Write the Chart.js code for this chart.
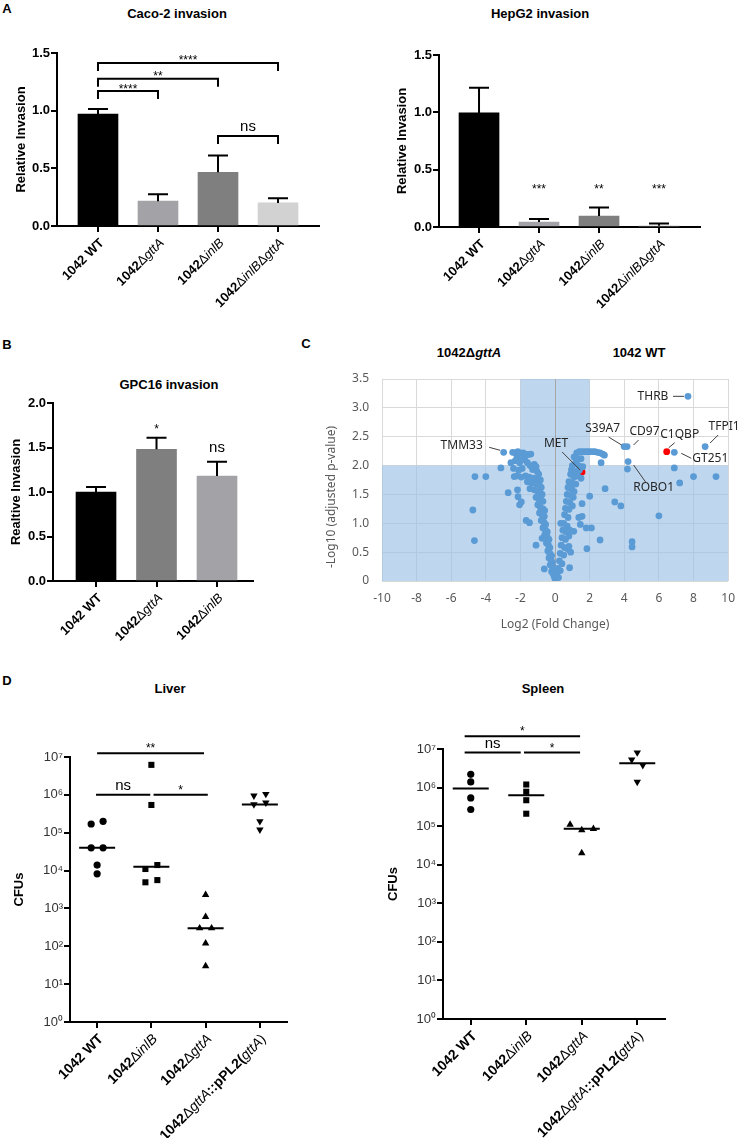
<!DOCTYPE html>
<html>
<head>
<meta charset="utf-8">
<script src="https://cdn.jsdelivr.net/npm/chart.js@4.4.1/dist/chart.umd.min.js"></script>
<style>
body { margin: 0; background: #fff; width: 745px; height: 1138px; position: relative; overflow: hidden; font-family: "Liberation Sans", Arial, sans-serif; }
canvas { position: absolute; left: 0; top: 0; }
.t { position: absolute; transform: translate(-50%, -50%); font-weight: bold; font-size: 13px; white-space: nowrap; color: #000; }
</style>
</head>
<body>
<div class="t" style="left:7px;top:8px">A</div>
<div class="t" style="left:7px;top:344px">B</div>
<div class="t" style="left:306px;top:343px">C</div>
<div class="t" style="left:7px;top:680px">D</div>
<div class="t" style="left:177px;top:13px">Caco-2 invasion</div>
<div class="t" style="left:540px;top:13px">HepG2 invasion</div>
<div class="t" style="left:169px;top:384px">GPC16 invasion</div>
<div class="t" style="left:469px;top:352px">1042Δ<i>gttA</i></div>
<div class="t" style="left:639px;top:352px">1042 WT</div>
<div class="t" style="left:170px;top:688px">Liver</div>
<div class="t" style="left:543px;top:688px">Spleen</div>
<canvas id="caco2" width="745" height="1138"></canvas>
<canvas id="hepg2" width="745" height="1138"></canvas>
<canvas id="gpc16" width="745" height="1138"></canvas>
<canvas id="volcano" width="745" height="1138"></canvas>
<canvas id="liver" width="745" height="1138"></canvas>
<canvas id="spleen" width="745" height="1138"></canvas>
<script>
// ---- data ----
var strains = ['1042 WT', '1042ΔgttA', '1042ΔinlB', '1042ΔinlBΔgttA']
var caco2Mean = [0.97, 0.215, 0.466, 0.20]
var caco2Err = [0.045, 0.06, 0.145, 0.04]
var caco2Sig = [{from: 0, to: 3, y: 1.414, text: '****'}, {from: 0, to: 2, y: 1.276, text: '**'},
                {from: 0, to: 1, y: 1.17, text: '****'}, {from: 2, to: 3, y: 0.78, text: 'ns'}]
var hepg2Mean = [0.995, 0.043, 0.095, 0.01]
var hepg2Err = [0.22, 0.026, 0.075, 0.02]
var hepg2Stars = [{at: 1, y: 0.36, text: '***'}, {at: 2, y: 0.36, text: '**'}, {at: 3, y: 0.36, text: '***'}]
var gpcStrains = ['1042 WT', '1042ΔgttA', '1042ΔinlB']
var gpc16Mean = [1.0, 1.48, 1.18]
var gpc16Err = [0.055, 0.13, 0.16]
var gpc16Stars = [{at: 1, y: 1.74, text: '*'}, {at: 2, y: 1.5, text: 'ns'}]

// volcano: labelled proteins, then the rest
var geneNames = ['THRB', 'TFPI1', 'C1QBP', 'GT251', 'CD97', 'S39A7', 'ROBO1', 'MET', 'TMM33']
var geneFC = [7.68, 8.67, 6.45, 6.89, 4.16, 3.99, 4.22, 1.56, -2.97]
var geneP = [3.2, 2.33, 2.24, 2.23, 2.33, 2.33, 2.07, 1.89, 2.23]
var redGenes = ['MET', 'C1QBP']
var otherProteins = [
  [-2.45,2.23],[-2.3,2.22],[-2.15,2.24],[-2.0,2.21],[-1.85,2.22],[-1.7,2.2],[-1.55,2.19],[-1.4,2.2],[-2.2,2.15],[-1.9,2.12],[-1.75,2.1],
  [-2.55,2.05],[-2.3,2.08],[-2.05,2.05],[-1.6,2.05],[-1.45,2.0],[-1.2,2.02],[-1.1,1.98],
  [-2.4,1.95],[-2.1,1.92],[-1.9,1.95],[-1.3,1.93],[-1.05,1.9],[-0.95,1.85],
  [-2.2,1.82],[-1.95,1.8],[-1.7,1.82],[-1.5,1.8],[-1.25,1.78],[-1.0,1.77],[-0.85,1.75],
  [-1.6,1.72],[-1.35,1.7],[-1.1,1.68],[-0.9,1.66],[-0.8,1.62],
  [-1.45,1.6],[-1.2,1.58],[-1.0,1.55],[-0.85,1.52],[-0.75,1.5],
  [-1.1,1.45],[-0.95,1.42],[-0.8,1.4],[-0.7,1.38],
  [-1.0,1.32],[-0.85,1.28],[-0.7,1.25],[-0.6,1.22],
  [-0.9,1.18],[-0.75,1.15],[-0.62,1.12],
  [-0.8,1.05],[-0.65,1.02],[-0.55,0.98],
  [-0.7,0.92],[-0.55,0.88],[-0.45,0.85],
  [-0.6,0.8],[-0.45,0.76],[-0.35,0.72],
  [-0.5,0.66],[-0.38,0.62],[-0.3,0.58],
  [-0.42,0.52],[-0.3,0.48],[-0.2,0.44],
  [-0.35,0.4],[-0.22,0.36],[-0.15,0.32],
  [-0.28,0.28],[-0.15,0.24],[-0.08,0.2],
  [-0.2,0.16],[-0.1,0.12],[-0.05,0.08],[0.0,0.04],[0.02,0.02],
  [-3.13,1.96],[-4.0,1.81],[-4.63,1.81],[-4.75,1.23],[-4.66,0.7],[-2.71,1.53],[-2.14,1.46],[-1.95,1.37],
  [-2.05,1.32],[-2.17,1.58],[-1.67,1.05],[-1.48,1.01],[-1.1,0.62],[-0.75,0.74],[-0.62,0.21],[-2.36,1.81],
  [1.25,2.22],[1.4,2.24],[1.55,2.24],[1.7,2.24],[1.85,2.24],[2.0,2.24],[2.15,2.24],[2.3,2.24],[2.45,2.23],[2.6,2.22],[2.75,2.2],[2.85,2.18],
  [1.1,2.15],[1.3,2.12],[1.5,2.12],[1.2,2.05],[1.0,2.0],[1.35,2.0],[1.6,1.98],
  [0.95,1.93],[1.15,1.9],[1.4,1.92],[0.9,1.85],[1.1,1.8],[1.3,1.82],[1.5,1.78],
  [0.8,1.72],[1.0,1.7],[1.2,1.68],[0.75,1.62],[0.95,1.6],[1.1,1.55],[0.7,1.5],[0.9,1.48],[1.05,1.45],[0.65,1.38],[0.85,1.36],[0.6,1.26],[0.8,1.24],[1.0,1.3],
  [0.55,1.15],[0.75,1.1],[0.5,1.0],[0.7,0.95],[0.45,0.88],[0.65,0.85],[0.85,0.88],[0.4,0.75],[0.6,0.72],[0.8,0.78],[0.35,0.62],[0.55,0.58],[0.75,0.55],
  [0.3,0.48],[0.5,0.45],[0.25,0.35],[0.4,0.3],[0.15,0.22],[0.3,0.18],[0.1,0.1],[0.2,0.06],
  [2.66,2.05],[2.89,1.6],[2.0,1.47],[1.56,1.34],[1.56,1.12],[1.37,1.1],[1.46,0.98],[1.08,0.86],[0.84,0.23],[1.8,0.92],[2.1,0.92],[1.84,0.56],
  [2.6,0.71],[3.45,1.37],[3.8,1.3],[4.45,0.68],[4.45,0.59],[4.18,1.94],[6.89,1.96],[8.0,1.81],[9.3,1.81],[7.2,1.7],[6.0,1.13],[0.33,1.0],[0.8,0.6],[0.9,0.5]
]

// mouse organ CFUs, one array per strain, plus horizontal spread of the dots
var mouseStrains = ['1042 WT', '1042ΔinlB', '1042ΔgttA', '1042ΔgttA::pPL2(gttA)']
var liverCFU = [[1.7e5, 2e5, 4e4, 4e4, 1.4e4, 8.2e3], [6.2e6, 5.4e5, 1.1e4, 1.4e4, 4.9e3, 5.6e3],
                [2.3e3, 600, 300, 300, 120, 30], [9.5e5, 1.05e6, 5.6e5, 6.2e5, 2e5, 1.2e5]]
var liverSpread = [[-0.11, 0.11, -0.11, 0.11, 0, 0], [0, 0, -0.11, 0.11, -0.11, 0.11],
                   [0, 0, -0.11, 0.11, 0, 0], [-0.11, 0.11, -0.11, 0.11, 0, 0]]
var liverMedian = [4e4, 1.26e4, 300, 5.6e5]
var liverSig = [{from: 0, to: 1.97, y: 1.26e7, text: '**'}, {from: -0.02, to: 0.98, y: 1e6, text: 'ns'}, {from: 1.04, to: 2.04, y: 1e6, text: '*'}]
var spleenCFU = [[2.2e6, 1.4e6, 5.4e5, 2.7e5], [1.2e6, 7.8e5, 4.7e5, 2.1e5], [1.1e5, 7.9e4, 8.5e4, 2e4], [8.1e6, 5.3e6, 3.8e6, 1.4e6]]
var spleenSpread = [[0, 0, 0, 0], [0, 0, 0, 0], [-0.21, 0, 0.21, 0], [0, -0.1, 0.1, 0]]
var spleenMedian = [9.5e5, 6.3e5, 8.5e4, 4.3e6]
var spleenSig = [{from: -0.11, to: 1.97, y: 2.15e7, text: '*'}, {from: -0.11, to: 0.9, y: 8.1e6, text: 'ns'}, {from: 0.96, to: 1.97, y: 8.1e6, text: '*'}]

var F1 = '"Liberation Sans", Arial, sans-serif'
var F2 = '"Noto Sans", sans-serif'
Chart.defaults.font.family = F1
Chart.defaults.color = '#000'
Chart.defaults.animation = false
Chart.defaults.events = []
Chart.defaults.plugins.legend.display = false
Chart.defaults.plugins.tooltip.enabled = false

// every chart sits on a full page canvas, padding puts its plot area in place
function frame(a, yTitleX, xH) {
    var yW = a.l - (yTitleX - 4 - 13 * 0.6)
    return {yW: yW, xH: xH, padding: {left: a.l - yW, top: a.t, right: 745 - a.r, bottom: 1138 - a.b - xH}}
}

// strain names: 1042 bold, Δ plain, gene names italic
function drawStrain(ctx, x, y, text, size) {
    var runs = text.split(/(Δ|gttA|inlB|\))/).filter(Boolean).map(function (p) {
        var st = (p == 'gttA' || p == 'inlB') ? 'italic ' : (p == 'Δ' || p == ')') ? '' : 'bold '
        return [p, st + size + 'px ' + F1]
    })
    var w = 0
    runs.forEach(function (r) { ctx.font = r[1]; w += ctx.measureText(r[0]).width })
    ctx.save()
    ctx.translate(x, y)
    ctx.rotate(-Math.PI / 4)
    ctx.textBaseline = 'middle'
    ctx.textAlign = 'left'
    ctx.fillStyle = '#000'
    var cx = -w
    runs.forEach(function (r) { ctx.font = r[1]; ctx.fillText(r[0], cx, 0); cx += ctx.measureText(r[0]).width })
    ctx.restore()
}

function sigText(ctx, text, x, cy) {
    ctx.fillStyle = '#000'
    ctx.textAlign = 'center'
    if (text[0] == '*') {
        ctx.font = '12px ' + F1
        ctx.textBaseline = 'alphabetic'
        ctx.fillText(text, x, cy + 7)
    } else {
        ctx.font = '15px ' + F1
        ctx.textBaseline = 'middle'
        ctx.fillText(text, x, cy)
    }
}

var xLabels = {
    id: 'xLabels',
    afterDraw: function (chart, args, o) {
        var xs = chart.scales.x, ys = chart.scales.y
        o.labels.forEach(function (t, i) {
            drawStrain(chart.ctx, xs.getPixelForValue(i) + o.dx, ys.bottom + o.dy, t, o.size)
        })
    }
}

var errBars = {
    id: 'errBars',
    afterDatasetsDraw: function (chart, args, o) {
        var xs = chart.scales.x, ys = chart.scales.y, ctx = chart.ctx
        ctx.save()
        ctx.strokeStyle = '#000'
        ctx.lineWidth = 2
        o.mean.forEach(function (m, i) {
            var px = xs.getPixelForValue(i), top = ys.getPixelForValue(m), end = ys.getPixelForValue(m + o.err[i])
            ctx.beginPath()
            ctx.moveTo(px, top); ctx.lineTo(px, end)
            ctx.moveTo(px - 10, end); ctx.lineTo(px + 10, end)
            ctx.stroke()
        })
        ctx.restore()
    }
}

var sigMarks = {
    id: 'sigMarks',
    afterDraw: function (chart, args, o) {
        var xs = chart.scales.x, ys = chart.scales.y, ctx = chart.ctx
        ctx.save()
        ctx.strokeStyle = '#000'
        ctx.lineWidth = 2
        o.brackets.forEach(function (b) {
            var x1 = xs.getPixelForValue(b.from), x2 = xs.getPixelForValue(b.to), py = ys.getPixelForValue(b.y)
            ctx.beginPath()
            ctx.moveTo(x1, py + 8); ctx.lineTo(x1, py); ctx.lineTo(x2, py); ctx.lineTo(x2, py + 8)
            ctx.stroke()
            sigText(ctx, b.text, (x1 + x2) / 2, py - (b.text == 'ns' ? 9 : 5.5))
        })
        o.stars.forEach(function (s) {
            sigText(ctx, s.text, xs.getPixelForValue(s.at), ys.getPixelForValue(s.y))
        })
        ctx.restore()
    }
}

function blackAxis(extra) {
    var a = {
        grid: {drawOnChartArea: false, offset: false, tickLength: 6, lineWidth: 2, color: '#000'},
        border: {width: 2, color: '#000'}
    }
    return Object.assign(a, extra)
}

function barChart(id, o) {
    var f = frame(o.area, o.yTitleX, 8)
    new Chart(document.getElementById(id), {
        type: 'bar',
        data: {datasets: [{data: o.mean.map(function (v, i) { return {x: i, y: v} }), backgroundColor: o.colors, barThickness: 40}]},
        options: {
            responsive: false,
            devicePixelRatio: 1,
            layout: {padding: f.padding},
            scales: {
                x: blackAxis({type: 'linear', offset: false, min: o.xMin, max: o.xMax,
                    afterBuildTicks: function (s) { s.ticks = o.labels.map(function (l, i) { return {value: i} }) },
                    afterFit: function (s) { s.height = f.xH },
                    ticks: {display: false}}),
                y: blackAxis({min: 0, max: o.yMax,
                    afterFit: function (s) { s.width = f.yW },
                    ticks: {stepSize: 0.5, font: {size: 13, weight: 'bold'}, padding: 1, callback: function (v) { return v.toFixed(1) }},
                    title: {display: true, text: o.yTitle, font: {size: 13, weight: 'bold'}}})
            },
            plugins: {
                errBars: {mean: o.mean, err: o.err},
                sigMarks: {brackets: o.brackets || [], stars: o.stars || []},
                xLabels: {labels: o.labels, size: 13, dx: 4, dy: 15}
            }
        },
        plugins: [errBars, sigMarks, xLabels]
    })
}

barChart('caco2', {area: {l: 57, r: 319, t: 53, b: 226}, yTitleX: 21.5, yTitle: 'Relative Invasion', xMin: -0.683, xMax: 3.683, yMax: 1.5,
    labels: strains, mean: caco2Mean, err: caco2Err, colors: ['#000000', '#a2a2a7', '#7f7f7f', '#d2d2d2'], brackets: caco2Sig})
barChart('hepg2', {area: {l: 439, r: 700, t: 55, b: 227}, yTitleX: 402, yTitle: 'Relative Invasion', xMin: -0.667, xMax: 3.683, yMax: 1.5,
    labels: strains, mean: hepg2Mean, err: hepg2Err, colors: ['#000000', '#a2a2a7', '#7f7f7f', '#d2d2d2'], stars: hepg2Stars})
barChart('gpc16', {area: {l: 53, r: 253, t: 403, b: 581}, yTitleX: 16, yTitle: 'Realtive Invasion', xMin: -0.711, xMax: 2.595, yMax: 2.0,
    labels: gpcStrains, mean: gpc16Mean, err: gpc16Err, colors: ['#000000', '#7f7f7f', '#a2a2a7'], stars: gpc16Stars})

// ---- volcano plot ----
var labelSpots = {
    THRB: {t: [-35, 0], l: [-15, 0, -4, 0]},
    TFPI1: {t: [19, -19.5], l: [13, -11.5, 5, -3.5]},
    C1QBP: {t: [13, -17], l: [8, -9, 2, -4]},
    GT251: {t: [36, 6], l: [7, 1, 17, 6]},
    CD97: {t: [17.5, -14.5], l: [11.5, -6.5, 6.5, -1.5]},
    S39A7: {t: [-21.5, -17.5], l: [-15.5, -9.5, -2.5, -1.5]},
    ROBO1: {t: [25.5, 26.5], l: [17.5, 20.5, 5.5, 3.5]},
    MET: {t: [-26, -28], l: [-20, -20, -2, -2]},
    TMM33: {t: [-42, -7], l: [-14.5, -5, -3.5, -2]}
}

var volcanoDeco = {
    id: 'volcanoDeco',
    beforeDatasetsDraw: function (chart) {
        var xs = chart.scales.x, ys = chart.scales.y, ctx = chart.ctx
        ctx.save()
        ctx.fillStyle = 'rgba(155,194,230,0.65)'
        var x0 = xs.getPixelForValue(-10), x1 = xs.getPixelForValue(10)
        var y0 = ys.getPixelForValue(0), y2 = ys.getPixelForValue(2), y3 = ys.getPixelForValue(3.5)
        ctx.fillRect(x0, y2, x1 - x0, y0 - y2)
        var a = xs.getPixelForValue(-2), b = xs.getPixelForValue(2)
        ctx.fillRect(a, y3, b - a, y2 - y3)
        var z = Math.round(xs.getPixelForValue(0)) + 0.5
        ctx.strokeStyle = '#a6a6a6'
        ctx.lineWidth = 1
        ctx.beginPath(); ctx.moveTo(z, y3); ctx.lineTo(z, y0); ctx.stroke()
        ctx.restore()
    },
    afterDraw: function (chart) {
        var xs = chart.scales.x, ys = chart.scales.y, ctx = chart.ctx
        ctx.save()
        ctx.font = '12px ' + F2
        ctx.textAlign = 'center'
        ctx.textBaseline = 'middle'
        ctx.strokeStyle = '#404040'
        ctx.lineWidth = 1
        geneNames.forEach(function (g, i) {
            var px = xs.getPixelForValue(geneFC[i]), py = ys.getPixelForValue(geneP[i]), s = labelSpots[g]
            ctx.fillStyle = '#262626'
            ctx.fillText(g, px + s.t[0], py + s.t[1])
            ctx.beginPath(); ctx.moveTo(px + s.l[0], py + s.l[1]); ctx.lineTo(px + s.l[2], py + s.l[3]); ctx.stroke()
        })
        ctx.translate(chart.chartArea.left - 50, (chart.chartArea.top + chart.chartArea.bottom) / 2 + 17)
        ctx.rotate(-Math.PI / 2)
        ctx.fillStyle = '#595959'
        ctx.fillText('-Log10 (adjusted p-value)', 0, 0)
        ctx.restore()
    }
}

var bluePts = otherProteins.map(function (p) { return {x: p[0], y: p[1]} })
var redPts = []
geneNames.forEach(function (g, i) {
    (redGenes.indexOf(g) >= 0 ? redPts : bluePts).push({x: geneFC[i], y: geneP[i]})
})
var lightGrid = {color: '#d9d9d9', drawTicks: false}
new Chart(document.getElementById('volcano'), {
    type: 'scatter',
    data: {datasets: [
        {data: bluePts, backgroundColor: '#5b9bd5', pointRadius: 3.4, borderWidth: 0},
        {data: redPts, backgroundColor: '#ff0000', pointRadius: 3.4, borderWidth: 0}
    ]},
    options: {
        responsive: false,
        devicePixelRatio: 1,
        layout: {padding: {left: 382 - 60, top: 379, right: 745 - 733, bottom: 1138 - 581 - 55}},
        scales: {
            x: {min: -10, max: 10, grid: lightGrid, border: {display: false},
                afterFit: function (s) { s.height = 55 },
                ticks: {stepSize: 2, color: '#595959', padding: 10, font: {family: F2, size: 12}},
                title: {display: true, text: 'Log2 (Fold Change)', color: '#595959', font: {family: F2, size: 12}}},
            y: {min: 0, max: 3.5, grid: lightGrid, border: {display: false},
                afterFit: function (s) { s.width = 60 },
                ticks: {stepSize: 0.5, color: '#595959', padding: 13, font: {family: F2, size: 12}}}
        }
    },
    plugins: [volcanoDeco]
})

// ---- mouse organ dot plots ----
var sup = ['⁰', '¹', '²', '³', '⁴', '⁵', '⁶', '⁷']
var dotMarks = {
    id: 'dotMarks',
    afterDatasetsDraw: function (chart, args, o) {
        var xs = chart.scales.x, ys = chart.scales.y, ctx = chart.ctx
        ctx.save()
        ctx.strokeStyle = '#000'
        ctx.lineWidth = 2
        o.medians.forEach(function (m, i) {
            var px = xs.getPixelForValue(i), py = ys.getPixelForValue(m)
            ctx.beginPath(); ctx.moveTo(px - 18, py); ctx.lineTo(px + 18, py); ctx.stroke()
        })
        o.lines.forEach(function (l) {
            var x1 = xs.getPixelForValue(l.from), x2 = xs.getPixelForValue(l.to), py = ys.getPixelForValue(l.y)
            ctx.beginPath(); ctx.moveTo(x1, py); ctx.lineTo(x2, py); ctx.stroke()
            sigText(ctx, l.text, (x1 + x2) / 2, py - (l.text == 'ns' ? 9 : 8))
        })
        ctx.restore()
    }
}

function dotChart(id, o) {
    var f = frame(o.area, o.yTitleX, 8)
    var shapes = ['circle', 'rect', 'triangle', 'triangle']
    var sets = o.cfu.map(function (g, i) {
        return {
            data: g.map(function (v, j) { return {x: i + o.spread[i][j], y: v} }),
            pointStyle: shapes[i], rotation: i == 3 ? 180 : 0,
            pointRadius: i == 0 ? 3.6 : 4.3, backgroundColor: '#000', borderWidth: 0
        }
    })
    new Chart(document.getElementById(id), {
        type: 'scatter',
        data: {datasets: sets},
        options: {
            responsive: false,
            devicePixelRatio: 1,
            layout: {padding: f.padding},
            scales: {
                x: blackAxis({type: 'linear', min: -0.5, max: 3.5,
                    afterBuildTicks: function (s) { s.ticks = mouseStrains.map(function (l, i) { return {value: i} }) },
                    afterFit: function (s) { s.height = f.xH },
                    ticks: {display: false}}),
                y: blackAxis({type: 'logarithmic', min: 1, max: 1e7,
                    afterBuildTicks: function (s) { s.ticks = sup.map(function (c, i) { return {value: Math.pow(10, i)} }) },
                    afterFit: function (s) { s.width = f.yW },
                    ticks: {color: '#333', padding: 1, font: {size: 13},
                        callback: function (v) { return '10' + sup[Math.round(Math.log10(v))] }},
                    title: {display: true, text: 'CFUs', font: {size: 13, weight: 'bold'}}})
            },
            plugins: {
                dotMarks: {medians: o.medians, lines: o.sig},
                xLabels: {labels: mouseStrains, size: 14, dx: 4, dy: 15}
            }
        },
        plugins: [dotMarks, xLabels]
    })
}

dotChart('liver', {area: {l: 70, r: 287, t: 757, b: 1022}, yTitleX: 19, cfu: liverCFU, spread: liverSpread, medians: liverMedian, sig: liverSig})
dotChart('spleen', {area: {l: 443, r: 665, t: 749, b: 1019}, yTitleX: 393, cfu: spleenCFU, spread: spleenSpread, medians: spleenMedian, sig: spleenSig})
</script>
</body>
</html>
